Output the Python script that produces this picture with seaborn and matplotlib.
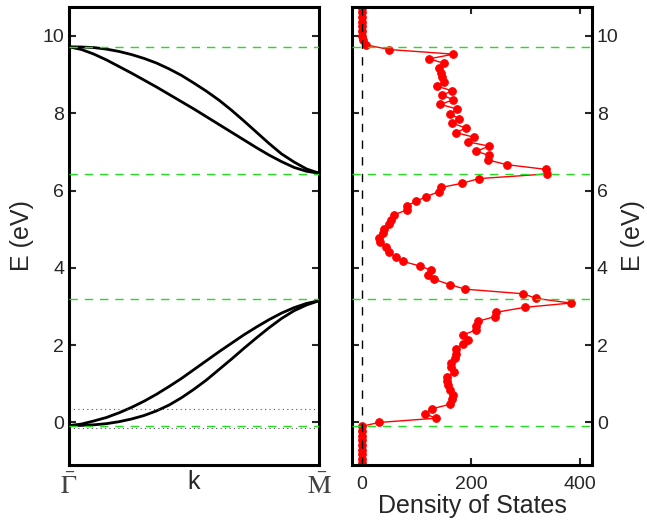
import matplotlib
matplotlib.use("Agg")
import matplotlib.pyplot as plt
import seaborn as sns
import numpy as np

# band structure along Gamma-M (k in units of the path length)
k_path = [0.0, 0.05, 0.1, 0.15, 0.2, 0.25, 0.3, 0.35, 0.4, 0.45, 0.5,
          0.55, 0.6, 0.65, 0.7, 0.75, 0.8, 0.85, 0.9, 0.95, 1.0]
band_low_a = [-0.08, -0.04, 0.04, 0.13, 0.25, 0.39, 0.55, 0.73, 0.93, 1.14, 1.37,
              1.60, 1.83, 2.05, 2.27, 2.47, 2.66, 2.83, 2.97, 3.08, 3.15]
band_low_b = [-0.08, -0.075, -0.06, -0.03, 0.02, 0.09, 0.18, 0.30, 0.45, 0.64, 0.86,
              1.10, 1.37, 1.64, 1.92, 2.19, 2.45, 2.69, 2.89, 3.04, 3.15]
band_up_c = [9.72, 9.715, 9.70, 9.66, 9.60, 9.52, 9.42, 9.30, 9.15, 8.98, 8.78,
             8.57, 8.34, 8.08, 7.80, 7.51, 7.22, 6.95, 6.74, 6.56, 6.45]
band_up_d = [9.72, 9.65, 9.53, 9.38, 9.21, 9.04, 8.86, 8.68, 8.49, 8.30, 8.11,
             7.91, 7.71, 7.51, 7.31, 7.11, 6.92, 6.75, 6.60, 6.50, 6.45]

# band edges (green dashed) and dotted reference levels
band_edges = [9.72, 6.44, 3.20, -0.08]
dotted_levels = [0.35, -0.15]

# density of states
dos_energy = [10.73, 10.61, 10.49, 10.37, 10.25, 10.13, 10.01, 9.89, 9.77, 9.65,
              9.53, 9.41, 9.29, 9.16, 9.04, 8.94, 8.81, 8.70, 8.58, 8.47,
              8.35, 8.23, 8.11, 7.98, 7.86, 7.74, 7.62, 7.50, 7.38, 7.26,
              7.15, 7.02, 6.91, 6.79, 6.67, 6.55, 6.43, 6.31, 6.19, 6.08,
              5.97, 5.84, 5.72, 5.61, 5.50, 5.37, 5.25, 5.13, 5.01, 4.89,
              4.77, 4.66, 4.54, 4.41, 4.28, 4.17, 4.05, 3.94, 3.81, 3.70,
              3.57, 3.45, 3.33, 3.21, 3.09, 2.98, 2.85, 2.74, 2.62, 2.50,
              2.39, 2.27, 2.14, 2.03, 1.90, 1.78, 1.67, 1.54, 1.43, 1.30,
              1.18, 1.07, 0.96, 0.85, 0.71, 0.60, 0.47, 0.35, 0.23, 0.11,
              0.00, -0.10, -0.22, -0.34, -0.46, -0.58, -0.70, -0.82, -0.94, -1.06]
dos_value = [0, 0, 0, 0, 0, 1, 1, 2, 8, 50,
             168, 124, 151, 142, 145, 147, 151, 138, 166, 147,
             168, 144, 175, 161, 179, 166, 191, 172, 206, 194,
             234, 210, 233, 232, 266, 337, 339, 215, 184, 145,
             141, 117, 100, 82, 82, 59, 53, 50, 40, 39,
             31, 33, 44, 50, 62, 75, 106, 127, 122, 133,
             161, 189, 296, 320, 383, 299, 246, 244, 213, 210,
             209, 186, 195, 185, 172, 172, 171, 163, 163, 169,
             157, 157, 158, 161, 168, 166, 161, 128, 115, 136,
             31, 0, 0, 0, 0, 0, 0, 0, 0, 0]

sns.set_theme(style="white")
plt.rcParams['font.family'] = ['Liberation Sans', 'DejaVu Sans']
plt.rcParams['mathtext.fontset'] = 'stix'

fig = plt.figure(figsize=(6.47, 5.2), dpi=100)
ax1 = fig.add_axes([69/647, 55/520, 250/647, 458/520])
ax2 = fig.add_axes([352/647, 55/520, 240/647, 458/520])

ylim = (-1.1, 10.75)
green = '#22dd22'

# left: bands
for band in [band_low_a, band_low_b, band_up_c, band_up_d]:
    sns.lineplot(x=k_path, y=band, color='black', lw=2, ax=ax1)
for lev in band_edges:
    ax1.axhline(lev, color=green, lw=1, dashes=(6, 5), zorder=3)
for lev in dotted_levels:
    ax1.axhline(lev, color='#555555', lw=0.8, ls=(0, (1, 3)))
ax1.set_xlim(0, 1)
ax1.set_ylim(*ylim)
ax1.set_xticks([0, 1])
ax1.set_xticklabels([r'$\bar{\Gamma}$', r'$\bar{\mathrm{M}}$'], fontsize=19, color='#444444')
ax1.set_xlabel('k', fontsize=18, labelpad=-21)
ax1.set_ylabel('E (eV)', fontsize=18, labelpad=6)
ax1.set_yticks([0, 2, 4, 6, 8, 10])
ax1.tick_params(axis='y', direction='in', left=True, right=True, length=5, width=1.5, labelsize=14)
ax1.tick_params(axis='x', length=0, pad=6)

# right: density of states
sns.lineplot(x=dos_value, y=dos_energy, sort=False, estimator=None, color='red',
             lw=1, marker='o', markersize=5.5, markeredgecolor='red', ax=ax2)
ax2.axvline(0, color='black', lw=1, dashes=(6, 6))
for lev in band_edges:
    ax2.axhline(lev, color=green, lw=1, dashes=(6, 5), zorder=3)
ax2.set_xlim(-18, 422)
ax2.set_ylim(*ylim)
ax2.set_xticks([0, 200, 400])
ax2.set_yticks([0, 2, 4, 6, 8, 10])
ax2.yaxis.set_label_position('right')
ax2.yaxis.tick_right()
ax2.set_ylabel('E (eV)', fontsize=18, labelpad=2)
ax2.set_xlabel('Density of States', fontsize=18, labelpad=1)
ax2.tick_params(direction='in', left=True, right=True, top=True, bottom=True,
                length=5, width=1.5, labelsize=14)
ax2.tick_params(axis='x', pad=8)

for ax in [ax1, ax2]:
    for sp in ax.spines.values():
        sp.set_linewidth(2.2)
        sp.set_color('black')

fig.savefig('out.png', dpi=100)
